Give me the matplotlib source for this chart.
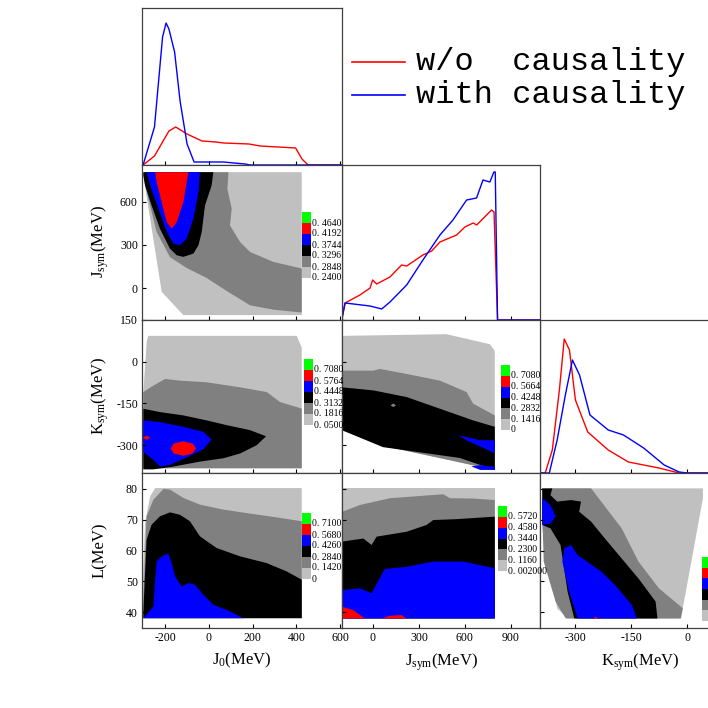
import matplotlib
matplotlib.use("Agg")
import matplotlib.pyplot as plt
from matplotlib.patches import Polygon

plt.rcParams['axes.unicode_minus'] = False
plt.rcParams['font.family'] = 'Liberation Serif'
plt.rcParams['mathtext.fontset'] = 'custom'
plt.rcParams['mathtext.rm'] = 'Liberation Serif'
plt.rcParams['mathtext.it'] = 'Liberation Serif'

# ---------------- ranges & ticks ----------------
J0_lim = (-305, 609); Jsym_lim = (-202, 1090); Ksym_lim = (-395, 136)
Jsym_ylim = (-222, 856); Ksym_ylim = (-400, 150); L_ylim = (34.8, 85.2)
J0_ticks = [-200, 0, 200, 400, 600]
Jsym_ticks = [0, 300, 600, 900]
Ksym_ticks = [-300, -150, 0]
Jsym_yticks = [0, 300, 600]
Ksym_yticks = [-300, -150, 0, 150]
L_ticks = [40, 50, 60, 70, 80]

# ---------------- 1D marginals ----------------
J0_blue_x = [-305, -300, -248, -211, -195, -182, -156, -131, -99, -67, 68, 166, 190, 609]
J0_blue_y = [0, 0, 38, 128, 142, 136, 113, 64, 21, 3, 3, 1, 0, 0]
J0_red_x = [-305, -300, -248, -182, -151, -99, -31, 33, 68, 184, 235, 317, 397, 426, 454, 609]
J0_red_y = [0, 0, 9, 34, 38, 31, 24, 23, 22, 21, 19, 18, 17, 6, 0, 0]

Js_blue_x = [-204, -182, -19, 57, 111, 220, 326, 437, 522, 611, 676, 718, 763, 789, 798, 813, 1090]
Js_blue_y = [0, 17, 14, 11, 18, 35, 60, 85, 100, 120, 122, 140, 138, 148, 148, 0, 0]
Js_red_x = [-204, -182, -85, -19, -2, 24, 111, 187, 220, 326, 383, 437, 546, 600, 654, 677, 774, 790, 813, 1090]
Js_red_y = [0, 17, 25, 32, 40, 36, 43, 55, 54, 65, 69, 78, 85, 93, 97, 95, 110, 108, 0, 0]

Ks_red_x = [-395, -381, -362, -343, -330, -316, -300, -267, -212, -158, -76, -22, 136]
Ks_red_y = [0, 0, 23, 83, 134, 123, 73, 41, 23, 11, 5, 0, 0]
Ks_blue_x = [-395, -370, -349, -327, -308, -289, -261, -212, -171, -117, -62, -22, 0, 136]
Ks_blue_y = [0, 0, 33, 78, 113, 98, 58, 43, 38, 25, 8, 1, 0, 0]

# ---------------- 2D contour regions (data coords) ----------------
LIGHT, DARK, BLACK, BLUE, RED, GREEN = '#c0c0c0', '#808080', '#000000', '#0000ff', '#ff0000', '#00ff00'

p10_light = [(-299, 806), (425, 806), (425, -188), (-116, -188), (-215, -26), (-299, 783)]
p10_dark = [(-291, 806), (90, 806), (85, 690), (105, 552), (97, 436), (143, 321), (189, 251), (295, 182),
            (425, 136), (425, -170), (295, -150), (189, -120), (82, -20), (-9, 70), (-101, 140), (-177, 215),
            (-238, 390), (-276, 621), (-295, 760)]
p10_dark_isl1 = [(250, 45), (265, 60), (280, 40), (270, 15), (255, 20)]
p10_dark_isl2 = [(325, -110), (360, -95), (380, -100), (350, -118)]
p10_black = [(-299, 806), (21, 806), (13, 713), (-17, 575), (-32, 390), (-47, 298), (-70, 240), (-116, 217),
             (-146, 228), (-177, 274), (-223, 413), (-261, 575), (-291, 713), (-299, 783)]
p10_blue = [(-284, 806), (-40, 806), (-47, 667), (-70, 482), (-101, 344), (-131, 298), (-162, 309),
            (-192, 390), (-230, 552), (-268, 713)]
p10_red = [(-245, 806), (-93, 806), (-116, 598), (-146, 459), (-169, 413), (-192, 459), (-215, 598), (-238, 737)]

p20_light = [(-283, 75), (-276, 93), (402, 93), (425, 51), (425, -383), (-299, -383), (-299, -110)]
p20_dark = [(-299, -109), (-253, -86), (-200, -62), (-131, -68), (-9, -74), (143, -92), (265, -109),
            (326, -145), (402, -163), (425, -169), (425, -383), (-299, -383)]
p20_black = [(-299, -169), (-223, -181), (-116, -193), (-9, -211), (82, -228), (189, -246), (262, -268),
             (219, -300), (143, -330), (67, -347), (-40, -359), (-162, -377), (-253, -387), (-299, -387)]
p20_blue = [(-299, -211), (-223, -217), (-116, -234), (-25, -252), (13, -280), (-25, -315), (-101, -344),
            (-177, -371), (-223, -377), (-253, -353), (-299, -324)]
p20_red1 = [(-174, -312), (-160, -294), (-116, -286), (-72, -295), (-58, -312), (-75, -330), (-116, -338), (-160, -330)]
p20_red2 = [(-302, -273), (-284, -265), (-268, -273), (-284, -281)]

p30_light = [(-245, 80.3), (425, 80.3), (425, 38.0), (-299, 38.0), (-302, 49.4), (-291, 68.9), (-268, 77.6)]
p30_dark = [(-299, 44.0), (-284, 71.1), (-253, 76.5), (-207, 80.0), (-177, 79.8), (-116, 77.1), (-40, 74.9),
            (67, 73.3), (189, 72.0), (326, 70.6), (425, 69.5), (425, 38.0), (-299, 38.0)]
p30_black = [(-299, 39.7), (-284, 63.5), (-261, 68.4), (-223, 71.1), (-177, 72.4), (-131, 71.6), (-86, 69.5),
             (-40, 64.6), (36, 60.8), (143, 58.1), (265, 55.9), (356, 53.2), (425, 50.5), (425, 38.0), (-299, 38.0)]
p30_blue = [(-299, 38.0), (-253, 41.8), (-245, 50.5), (-238, 56.5), (-215, 58.1), (-185, 59.0), (-169, 55.9),
            (-154, 51.6), (-124, 48.3), (-93, 49.4), (-63, 48.9), (-25, 45.6), (21, 42.4), (97, 40.2), (158, 38.0)]

p21_light = [(-200, 93), (480, 99), (763, 63), (795, 39), (795, -389), (46, -300), (-202, -246)]
p21_dark = [(-202, -32), (2, -32), (46, -26), (220, -44), (437, -68), (611, -109), (654, -151), (795, -193),
            (795, -389), (46, -300), (-202, -246)]
p21_black = [(-202, -92), (2, -103), (220, -127), (437, -169), (654, -211), (795, -234), (795, -389),
             (567, -346), (65, -307), (-202, -246)]
p21_dark_isl = [(115, -157), (133, -150), (150, -157), (133, -163)]
p21_blue1 = [(556, -264), (620, -272), (700, -282), (795, -282), (795, -330), (720, -310), (620, -285)]
p21_blue2 = [(640, -376), (700, -372), (795, -378), (795, -389), (700, -389)]

p31_light = [(-200, 80.2), (795, 80.2), (795, 37.9), (-200, 37.9)]
p31_dark = [(-200, 72.6), (-85, 74.8), (111, 77.0), (328, 77.8), (459, 78.3), (502, 77.0), (654, 76.9),
            (795, 76.4), (795, 37.9), (-200, 37.9)]
p31_black = [(-200, 62.9), (-63, 63.9), (-9, 61.8), (24, 64.5), (220, 66.1), (350, 68.3), (393, 69.9),
             (546, 70.2), (795, 71.0), (795, 37.9), (-200, 37.9)]
p31_blue = [(-200, 47.1), (-85, 47.7), (-9, 46.1), (67, 53.1), (78, 54.0), (220, 54.7), (393, 56.4),
            (589, 56.4), (795, 54.2), (795, 37.9), (-200, 37.9)]
p31_red1 = [(-200, 41.7), (-128, 40.6), (-52, 37.9), (-200, 37.9)]
p31_red2 = [(57, 37.9), (111, 38.8), (187, 39.0), (220, 37.9)]

p32_light = [(-389, 80.2), (42, 80.2), (42, 77), (-12, 41.2), (-21, 37.9), (-321, 37.9), (-349, 41.2), (-389, 67.2)]
p32_dark = [(-367, 80.2), (-258, 80.2), (-176, 67.2), (-131, 56.4), (-76, 47.7), (-12, 41.2), (-17, 37.9),
            (-326, 37.9), (-353, 43.3), (-385, 56.4), (-389, 72.6)]
p32_black = [(-389, 80.2), (-362, 80.2), (-367, 78.0), (-349, 75.9), (-312, 76.4), (-285, 75.9), (-290, 72.6),
             (-258, 69.4), (-221, 63.9), (-176, 57.4), (-131, 50.9), (-85, 43.4), (-80, 37.9), (-303, 37.9),
             (-321, 46.6), (-340, 61.8), (-367, 67.2), (-389, 68.3)]
p32_blue1 = [(-389, 77.0), (-367, 74.8), (-353, 71.0), (-367, 68.8), (-389, 68.3)]
p32_blue2 = [(-330, 60.7), (-312, 61.8), (-294, 58.5), (-230, 53.1), (-194, 48.8), (-149, 42.3), (-135, 37.9),
             (-294, 37.9), (-317, 46.6), (-335, 56.4)]
p32_red = [(-253, 37.9), (-246, 38.5), (-239, 37.9)]

# colorbar tick labels (top to bottom)
cb10 = ['0. 4640', '0. 4192', '0. 3744', '0. 3296', '0. 2848', '0. 2400']
cb20 = ['0. 7080', '0. 5764', '0. 4448', '0. 3132', '0. 1816', '0. 05000']
cb21 = ['0. 7080', '0. 5664', '0. 4248', '0. 2832', '0. 1416', '0']
cb30 = ['0. 7100', '0. 5680', '0. 4260', '0. 2840', '0. 1420', '0']
cb31 = ['0. 5720', '0. 4580', '0. 3440', '0. 2300', '0. 1160', '0. 002000']
cb32 = ['', '', '', '', '', '']
cb_colors = [GREEN, RED, BLUE, BLACK, DARK, LIGHT]

# ---------------- figure ----------------
W = H = 708
fig = plt.figure(figsize=(7.08, 7.08), dpi=100)

def rect(x0, y0, x1, y1):
    return [x0 / W, 1 - y1 / H, (x1 - x0) / W, (y1 - y0) / H]

colx = [(142, 342), (342, 540), (540, 738)]
rowy = [(8, 165), (165, 320), (320, 473), (473, 628)]

def make_ax(r, c):
    ax = fig.add_axes(rect(colx[c][0], rowy[r][0], colx[c][1], rowy[r][1]))
    ax.tick_params(direction='in', length=3, labelsize=8.5, width=0.8, pad=3)
    for s in ax.spines.values():
        s.set_linewidth(0.9)
        s.set_color('#404040')
    return ax

xl = [J0_lim, Jsym_lim, Ksym_lim]
xt = [J0_ticks, Jsym_ticks, Ksym_ticks]
yl = {1: Jsym_ylim, 2: Ksym_ylim, 3: L_ylim}
yt = {1: Jsym_yticks, 2: Ksym_yticks, 3: L_ticks}

def fill(ax, pts, color):
    ax.add_patch(Polygon(pts, closed=True, facecolor=color, edgecolor='none'))

def cbar(x0, y0, x1, y1, labels):
    cax = fig.add_axes(rect(x0, y0, x1, y1))
    n = len(cb_colors)
    for i, col in enumerate(cb_colors):
        cax.bar(0.5, 1, bottom=n - 1 - i, width=1, color=col)
    cax.set_xlim(0, 1); cax.set_ylim(0, n)
    cax.axis('off')
    for i, lab in enumerate(labels):
        cax.text(1.1, n - 1 - i, lab, fontsize=7, va='center', ha='left',
                 family='Liberation Serif', clip_on=False)

# diagonal
ax00 = make_ax(0, 0)
ax00.plot(J0_red_x, J0_red_y, color='red', lw=1)
ax00.plot(J0_blue_x, J0_blue_y, color='blue', lw=1)
ax00.set_xlim(J0_lim); ax00.set_ylim(0, 157)
ax00.set_xticks(J0_ticks); ax00.set_xticklabels([]); ax00.set_yticks([])

ax11 = make_ax(1, 1)
ax11.plot(Js_red_x, Js_red_y, color='red', lw=1)
ax11.plot(Js_blue_x, Js_blue_y, color='blue', lw=1)
ax11.set_xlim(Jsym_lim); ax11.set_ylim(0, 155)
ax11.set_xticks(Jsym_ticks); ax11.set_xticklabels([]); ax11.set_yticks([])

ax22 = make_ax(2, 2)
ax22.plot(Ks_red_x, Ks_red_y, color='red', lw=1)
ax22.plot(Ks_blue_x, Ks_blue_y, color='blue', lw=1)
ax22.set_xlim(Ksym_lim); ax22.set_ylim(0, 153)
ax22.set_xticks(Ksym_ticks); ax22.set_xticklabels([]); ax22.set_yticks([])

panels = {
    (1, 0): [(p10_light, LIGHT), (p10_dark, DARK), (p10_dark_isl1, DARK), (p10_dark_isl2, DARK),
             (p10_black, BLACK), (p10_blue, BLUE), (p10_red, RED)],
    (2, 0): [(p20_light, LIGHT), (p20_dark, DARK), (p20_black, BLACK), (p20_blue, BLUE),
             (p20_red1, RED), (p20_red2, RED)],
    (3, 0): [(p30_light, LIGHT), (p30_dark, DARK), (p30_black, BLACK), (p30_blue, BLUE)],
    (2, 1): [(p21_light, LIGHT), (p21_dark, DARK), (p21_black, BLACK), (p21_dark_isl, DARK),
             (p21_blue1, BLUE), (p21_blue2, BLUE)],
    (3, 1): [(p31_light, LIGHT), (p31_dark, DARK), (p31_black, BLACK), (p31_blue, BLUE),
             (p31_red1, RED), (p31_red2, RED)],
    (3, 2): [(p32_light, LIGHT), (p32_dark, DARK), (p32_black, BLACK), (p32_blue1, BLUE),
             (p32_blue2, BLUE), (p32_red, RED)],
}
for (r, c), layers in panels.items():
    ax = make_ax(r, c)
    for pts, col in layers:
        fill(ax, pts, col)
    ax.set_xlim(xl[c]); ax.set_ylim(yl[r])
    ax.set_xticks(xt[c]); ax.set_yticks(yt[r])
    if r != 3:
        ax.set_xticklabels([])
    if c != 0:
        ax.set_yticklabels([])

cbar(302, 212, 311, 278, cb10)
cbar(304, 359, 313, 425, cb20)
cbar(501, 365, 510, 430, cb21)
cbar(302, 513, 311, 579, cb30)
cbar(498, 506, 507, 571, cb31)
cbar(702, 557, 712, 621, cb32)

# axis labels
lfs = 12
fig.text(242 / W, 1 - 660 / H, r'J$_{\rm 0}$(MeV)', ha='center', va='center', fontsize=lfs)
fig.text(441 / W, 1 - 662 / H, r'J$_{\rm sym}$(MeV)', ha='center', va='center', fontsize=lfs)
fig.text(640 / W, 1 - 662 / H, r'K$_{\rm sym}$(MeV)', ha='center', va='center', fontsize=lfs)
fig.text(100 / W, 1 - 242 / H, r'J$_{\rm sym}$(MeV)', ha='center', va='center', fontsize=lfs, rotation=90)
fig.text(100 / W, 1 - 396 / H, r'K$_{\rm sym}$(MeV)', ha='center', va='center', fontsize=lfs, rotation=90)
fig.text(100 / W, 1 - 550 / H, r'L(MeV)', ha='center', va='center', fontsize=lfs, rotation=90)

# legend
lax = fig.add_axes(rect(345, 40, 708, 120))
lax.set_xlim(345, 708); lax.set_ylim(120, 40); lax.axis('off')
lax.plot([352, 405], [62, 62], color='red', lw=1.2)
lax.plot([352, 405], [95, 95], color='blue', lw=1.2)
lax.text(416, 62, 'w/o  causality', fontsize=23, family='Liberation Mono', va='center', ha='left')
lax.text(416, 95, 'with causality', fontsize=23, family='Liberation Mono', va='center', ha='left')

fig.savefig('out.png', dpi=100)
